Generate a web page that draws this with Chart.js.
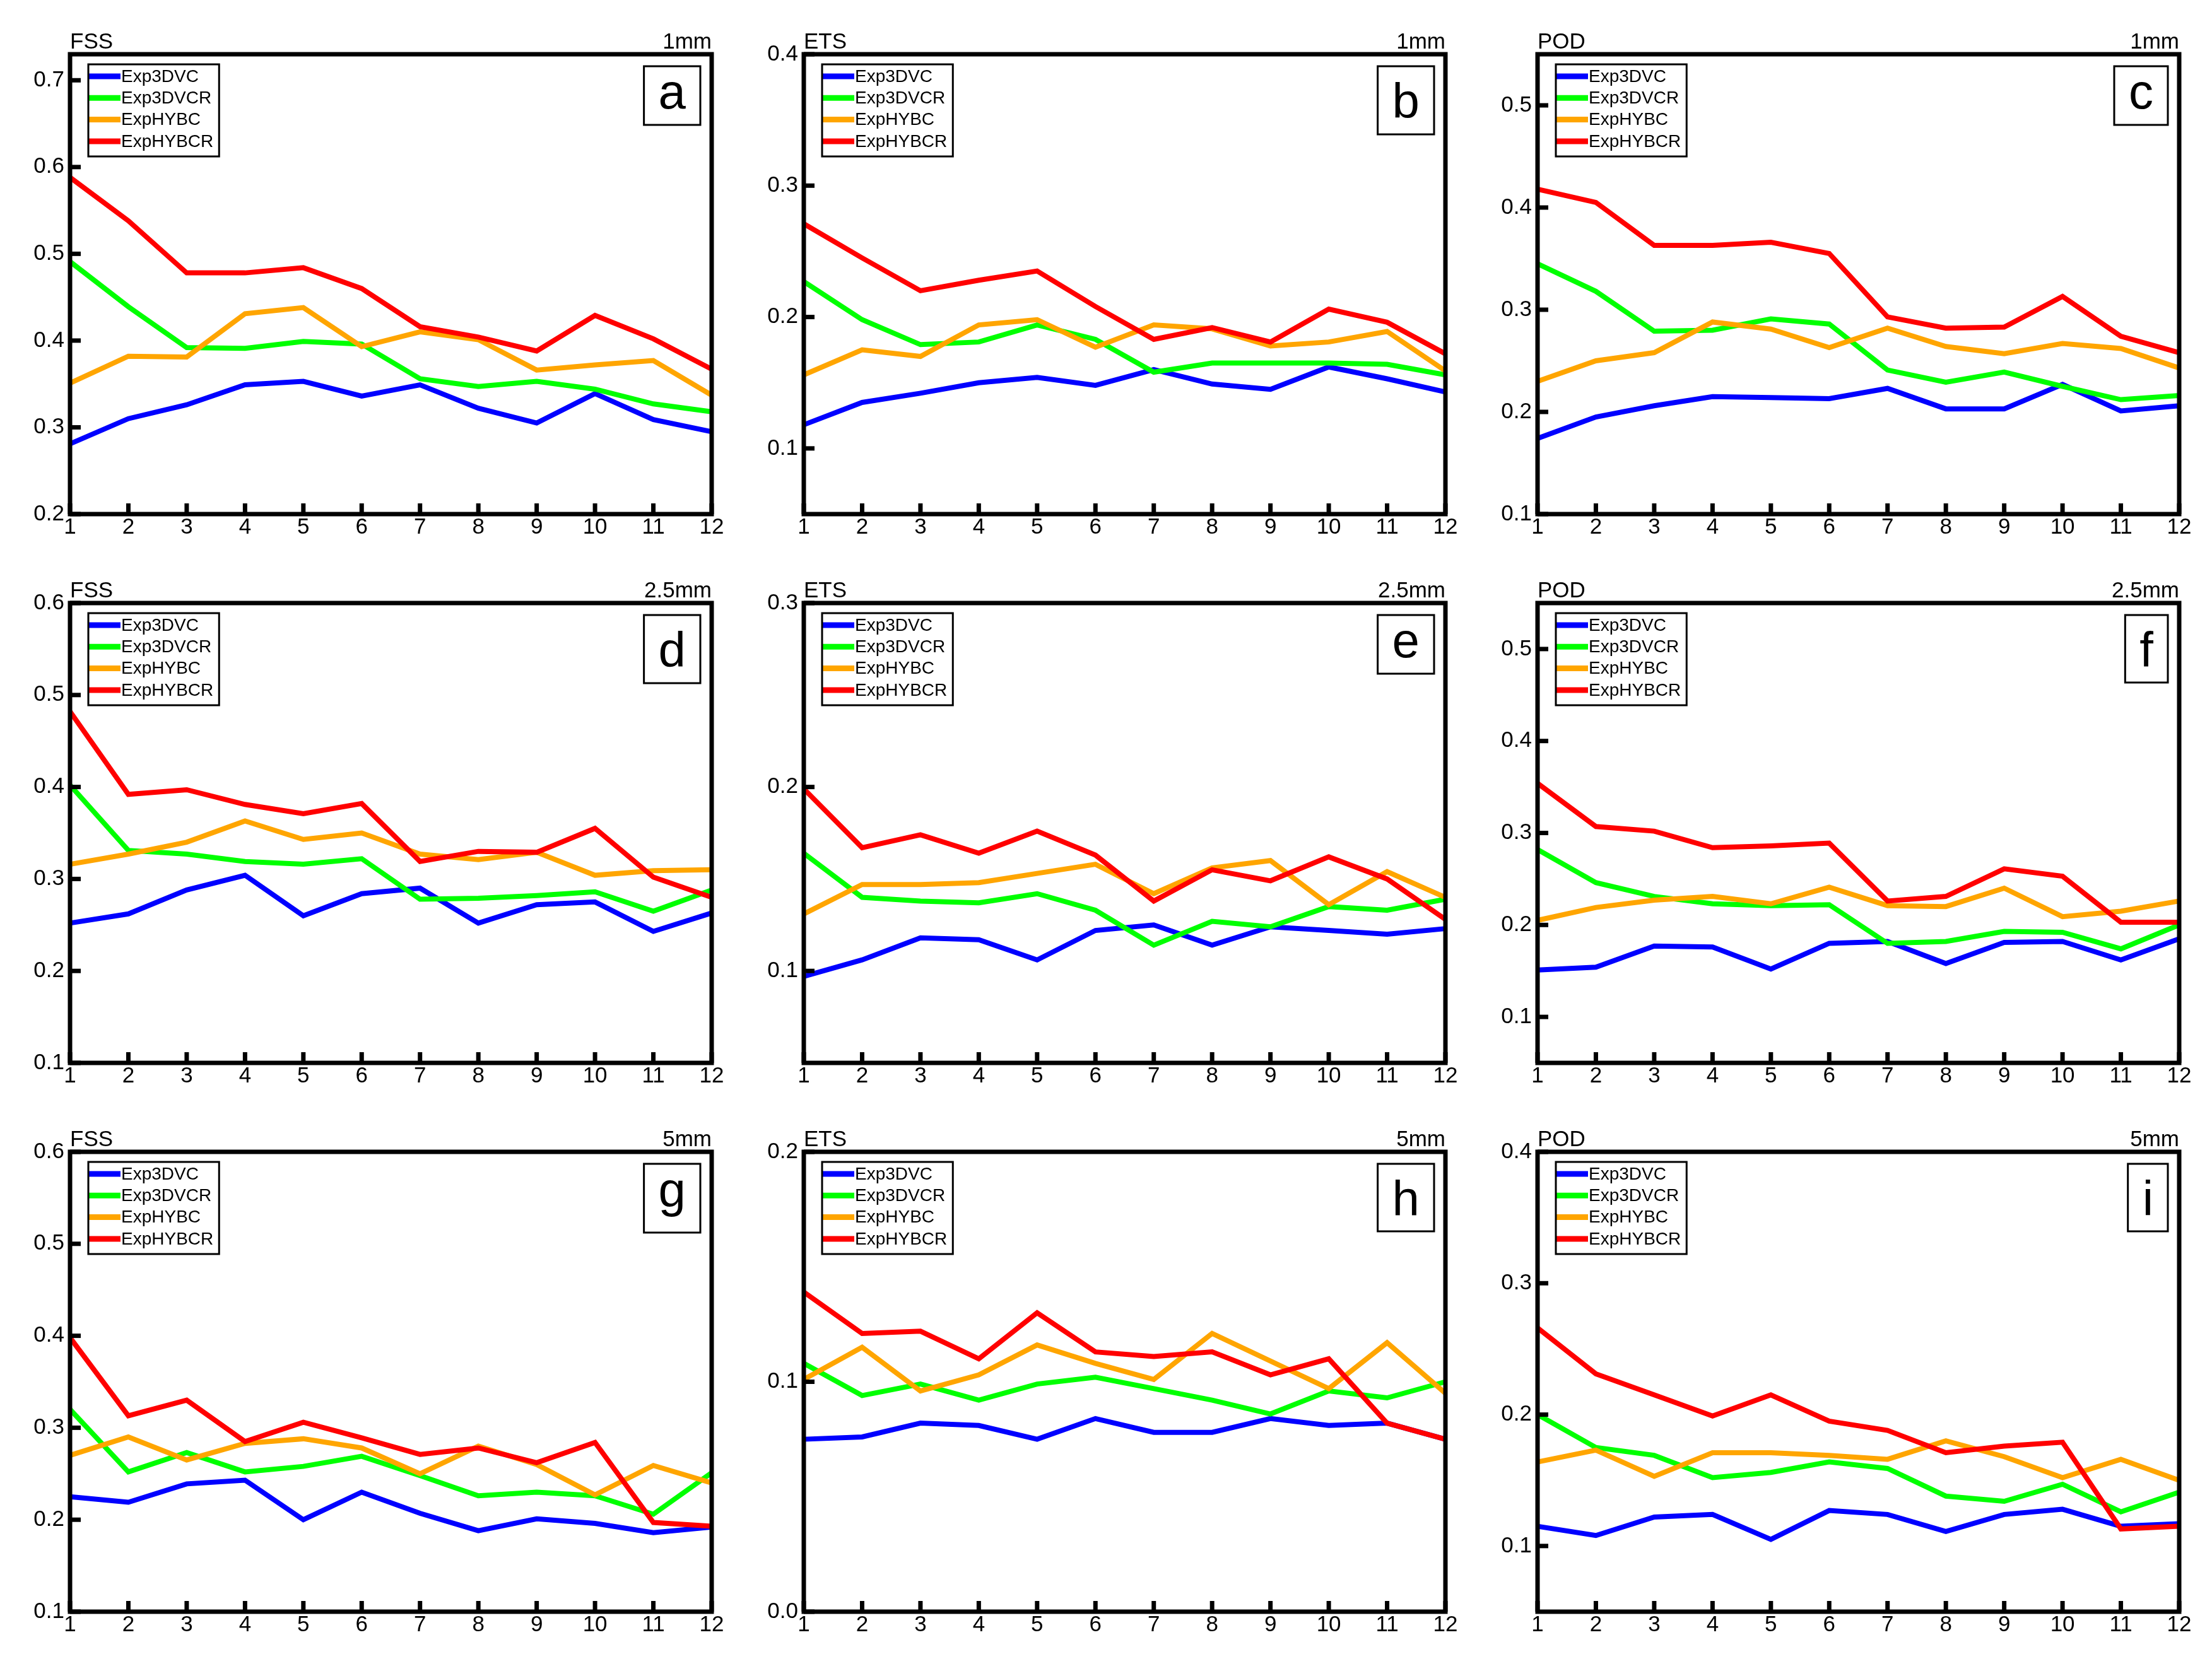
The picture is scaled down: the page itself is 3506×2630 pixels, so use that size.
<!DOCTYPE html>
<html lang="en">
<head>
    <meta charset="UTF-8">
    <title>FSS / ETS / POD by forecast hour</title>
    <script src="https://cdn.jsdelivr.net/npm/chart.js"></script>
    <style>
        body {
            margin: 0;
            background: #fff;
            width: 3506px;
            height: 2630px;
            position: relative;
            overflow: hidden;
        }
        canvas {
            position: absolute;
        }
    </style>
</head>
<body>

<script>
    // forecast hours on the x axis
    const hours = ['1', '2', '3', '4', '5', '6', '7', '8', '9', '10', '11', '12'];
    const expNames = ['Exp3DVC', 'Exp3DVCR', 'ExpHYBC', 'ExpHYBCR'];
    const expColors = ['#0000ff', '#00ff00', '#ffa500', '#ff0000'];

    // (a) FSS 1mm
    const fss1_3dvc  = [0.281, 0.310, 0.326, 0.349, 0.353, 0.336, 0.349, 0.322, 0.305, 0.339, 0.309, 0.295];
    const fss1_3dvcr = [0.491, 0.439, 0.392, 0.391, 0.399, 0.396, 0.356, 0.347, 0.353, 0.344, 0.327, 0.318];
    const fss1_hybc  = [0.351, 0.382, 0.381, 0.431, 0.438, 0.393, 0.410, 0.401, 0.366, 0.372, 0.377, 0.337];
    const fss1_hybcr = [0.588, 0.538, 0.478, 0.478, 0.484, 0.460, 0.416, 0.404, 0.388, 0.429, 0.402, 0.367];

    // (b) ETS 1mm
    const ets1_3dvc  = [0.118, 0.135, 0.142, 0.150, 0.154, 0.148, 0.160, 0.149, 0.145, 0.162, 0.153, 0.143];
    const ets1_3dvcr = [0.227, 0.198, 0.179, 0.181, 0.194, 0.183, 0.158, 0.165, 0.165, 0.165, 0.164, 0.156];
    const ets1_hybc  = [0.156, 0.175, 0.170, 0.194, 0.198, 0.177, 0.194, 0.191, 0.178, 0.181, 0.189, 0.159];
    const ets1_hybcr = [0.271, 0.245, 0.220, 0.228, 0.235, 0.208, 0.183, 0.192, 0.181, 0.206, 0.196, 0.172];

    // (c) POD 1mm
    const pod1_3dvc  = [0.174, 0.195, 0.206, 0.215, 0.214, 0.213, 0.223, 0.203, 0.203, 0.227, 0.201, 0.206];
    const pod1_3dvcr = [0.345, 0.318, 0.279, 0.280, 0.291, 0.286, 0.241, 0.229, 0.239, 0.225, 0.212, 0.216];
    const pod1_hybc  = [0.230, 0.250, 0.258, 0.288, 0.281, 0.263, 0.282, 0.264, 0.257, 0.267, 0.262, 0.243];
    const pod1_hybcr = [0.418, 0.405, 0.363, 0.363, 0.366, 0.355, 0.293, 0.282, 0.283, 0.313, 0.274, 0.258];

    // (d) FSS 2.5mm
    const fss25_3dvc  = [0.252, 0.262, 0.288, 0.304, 0.260, 0.284, 0.290, 0.252, 0.272, 0.275, 0.243, 0.263];
    const fss25_3dvcr = [0.402, 0.331, 0.327, 0.319, 0.316, 0.322, 0.278, 0.279, 0.282, 0.286, 0.265, 0.288];
    const fss25_hybc  = [0.316, 0.327, 0.340, 0.363, 0.343, 0.350, 0.327, 0.321, 0.329, 0.304, 0.309, 0.310];
    const fss25_hybcr = [0.482, 0.392, 0.397, 0.381, 0.371, 0.382, 0.319, 0.330, 0.329, 0.355, 0.302, 0.280];

    // (e) ETS 2.5mm
    const ets25_3dvc  = [0.097, 0.106, 0.118, 0.117, 0.106, 0.122, 0.125, 0.114, 0.124, 0.122, 0.120, 0.123];
    const ets25_3dvcr = [0.164, 0.140, 0.138, 0.137, 0.142, 0.133, 0.114, 0.127, 0.124, 0.135, 0.133, 0.139];
    const ets25_hybc  = [0.131, 0.147, 0.147, 0.148, 0.153, 0.158, 0.142, 0.156, 0.160, 0.136, 0.154, 0.140];
    const ets25_hybcr = [0.199, 0.167, 0.174, 0.164, 0.176, 0.163, 0.138, 0.155, 0.149, 0.162, 0.150, 0.128];

    // (f) POD 2.5mm
    const pod25_3dvc  = [0.151, 0.154, 0.177, 0.176, 0.152, 0.180, 0.182, 0.158, 0.181, 0.182, 0.162, 0.185];
    const pod25_3dvcr = [0.282, 0.246, 0.231, 0.223, 0.221, 0.222, 0.180, 0.182, 0.193, 0.192, 0.174, 0.200];
    const pod25_hybc  = [0.205, 0.219, 0.227, 0.231, 0.223, 0.241, 0.221, 0.220, 0.240, 0.209, 0.215, 0.226];
    const pod25_hybcr = [0.354, 0.307, 0.302, 0.284, 0.286, 0.289, 0.226, 0.231, 0.261, 0.253, 0.203, 0.203];

    // (g) FSS 5mm
    const fss5_3dvc  = [0.225, 0.219, 0.239, 0.243, 0.200, 0.230, 0.207, 0.188, 0.201, 0.196, 0.186, 0.192];
    const fss5_3dvcr = [0.320, 0.252, 0.273, 0.252, 0.258, 0.269, 0.248, 0.226, 0.230, 0.226, 0.206, 0.251];
    const fss5_hybc  = [0.270, 0.290, 0.265, 0.283, 0.288, 0.278, 0.250, 0.280, 0.260, 0.227, 0.259, 0.240];
    const fss5_hybcr = [0.398, 0.313, 0.330, 0.285, 0.306, 0.289, 0.271, 0.278, 0.262, 0.284, 0.197, 0.193];

    // (h) ETS 5mm
    const ets5_3dvc  = [0.075, 0.076, 0.082, 0.081, 0.075, 0.084, 0.078, 0.078, 0.084, 0.081, 0.082, 0.075];
    const ets5_3dvcr = [0.108, 0.094, 0.099, 0.092, 0.099, 0.102, 0.097, 0.092, 0.086, 0.096, 0.093, 0.100];
    const ets5_hybc  = [0.101, 0.115, 0.096, 0.103, 0.116, 0.108, 0.101, 0.121, 0.109, 0.097, 0.117, 0.095];
    const ets5_hybcr = [0.139, 0.121, 0.122, 0.110, 0.130, 0.113, 0.111, 0.113, 0.103, 0.110, 0.082, 0.075];

    // (i) POD 5mm
    const pod5_3dvc  = [0.115, 0.108, 0.122, 0.124, 0.105, 0.127, 0.124, 0.111, 0.124, 0.128, 0.115, 0.117];
    const pod5_3dvcr = [0.200, 0.175, 0.169, 0.152, 0.156, 0.164, 0.159, 0.138, 0.134, 0.147, 0.126, 0.141];
    const pod5_hybc  = [0.164, 0.173, 0.153, 0.171, 0.171, 0.169, 0.166, 0.180, 0.168, 0.152, 0.166, 0.150];
    const pod5_hybcr = [0.266, 0.231, 0.215, 0.199, 0.215, 0.195, 0.188, 0.171, 0.176, 0.179, 0.113, 0.115];

    // y tick labels per panel
    const ticksA = [0.2, 0.3, 0.4, 0.5, 0.6, 0.7];
    const ticksB = [0.1, 0.2, 0.3, 0.4];
    const ticksC = [0.1, 0.2, 0.3, 0.4, 0.5];
    const ticksD = [0.1, 0.2, 0.3, 0.4, 0.5, 0.6];
    const ticksE = [0.1, 0.2, 0.3];
    const ticksF = [0.1, 0.2, 0.3, 0.4, 0.5];
    const ticksG = [0.1, 0.2, 0.3, 0.4, 0.5, 0.6];
    const ticksH = [0.0, 0.1, 0.2];
    const ticksI = [0.1, 0.2, 0.3, 0.4];

    const panels = [
        { score: 'FSS', thr: '1mm',   letter: 'a', min: 0.2,  max: 0.73, ticks: ticksA, series: [fss1_3dvc, fss1_3dvcr, fss1_hybc, fss1_hybcr] },
        { score: 'ETS', thr: '1mm',   letter: 'b', min: 0.05, max: 0.4,  ticks: ticksB, series: [ets1_3dvc, ets1_3dvcr, ets1_hybc, ets1_hybcr] },
        { score: 'POD', thr: '1mm',   letter: 'c', min: 0.1,  max: 0.55, ticks: ticksC, series: [pod1_3dvc, pod1_3dvcr, pod1_hybc, pod1_hybcr] },
        { score: 'FSS', thr: '2.5mm', letter: 'd', min: 0.1,  max: 0.6,  ticks: ticksD, series: [fss25_3dvc, fss25_3dvcr, fss25_hybc, fss25_hybcr] },
        { score: 'ETS', thr: '2.5mm', letter: 'e', min: 0.05, max: 0.3,  ticks: ticksE, series: [ets25_3dvc, ets25_3dvcr, ets25_hybc, ets25_hybcr] },
        { score: 'POD', thr: '2.5mm', letter: 'f', min: 0.05, max: 0.55, ticks: ticksF, series: [pod25_3dvc, pod25_3dvcr, pod25_hybc, pod25_hybcr] },
        { score: 'FSS', thr: '5mm',   letter: 'g', min: 0.1,  max: 0.6,  ticks: ticksG, series: [fss5_3dvc, fss5_3dvcr, fss5_hybc, fss5_hybcr] },
        { score: 'ETS', thr: '5mm',   letter: 'h', min: 0.0,  max: 0.2,  ticks: ticksH, series: [ets5_3dvc, ets5_3dvcr, ets5_hybc, ets5_hybcr] },
        { score: 'POD', thr: '5mm',   letter: 'i', min: 0.05, max: 0.4,  ticks: ticksI, series: [pod5_3dvc, pod5_3dvcr, pod5_hybc, pod5_hybcr] }
    ];

    const FONT = '"Liberation Sans", Arial, sans-serif';

    // frame, inward ticks, titles, legend box and panel letter
    const decor = {
        id: 'decor',
        afterDatasetsDraw(chart, args, opts) {
            const ctx = chart.ctx;
            const a = chart.chartArea;
            const xs = chart.scales.x, ys = chart.scales.y;
            ctx.save();
            ctx.strokeStyle = '#000';
            ctx.lineWidth = 7;
            ctx.lineCap = 'butt';

            ys.ticks.forEach(t => {
                const y = ys.getPixelForValue(t.value);
                ctx.beginPath();
                ctx.moveTo(a.left, y);
                ctx.lineTo(a.left + 17, y);
                ctx.stroke();
            });
            xs.ticks.forEach((t, i) => {
                const x = xs.getPixelForTick(i);
                ctx.beginPath();
                ctx.moveTo(x, a.bottom);
                ctx.lineTo(x, a.bottom - 17);
                ctx.stroke();
            });
            ctx.strokeRect(a.left, a.top, a.right - a.left, a.bottom - a.top);

            // score name and threshold above the frame
            ctx.fillStyle = '#000';
            ctx.font = '35px ' + FONT;
            ctx.textBaseline = 'alphabetic';
            ctx.textAlign = 'left';
            ctx.fillText(opts.score, a.left, a.top - 9);
            ctx.textAlign = 'right';
            ctx.fillText(opts.thr, a.right, a.top - 9);

            // legend
            ctx.font = '28px ' + FONT;
            ctx.textAlign = 'left';
            ctx.textBaseline = 'middle';
            const sets = chart.data.datasets;
            const lineLen = 51;
            const textW = Math.max(...sets.map(d => ctx.measureText(d.label).width));
            const bx = a.left + 29, by = a.top + 16;
            const bw = lineLen + textW + 10, bh = 146;
            ctx.fillStyle = '#fff';
            ctx.fillRect(bx, by, bw, bh);
            sets.forEach((d, k) => {
                const ry = by + 19 + k * 34.3;
                ctx.strokeStyle = d.borderColor;
                ctx.lineWidth = 9;
                ctx.beginPath();
                ctx.moveTo(bx, ry);
                ctx.lineTo(bx + lineLen, ry);
                ctx.stroke();
                ctx.fillStyle = '#000';
                ctx.fillText(d.label, bx + lineLen + 1, ry + 1);
            });
            ctx.strokeStyle = '#000';
            ctx.lineWidth = 3;
            ctx.strokeRect(bx, by, bw, bh);

            // panel letter in a box
            ctx.font = '78px ' + FONT;
            ctx.textBaseline = 'alphabetic';
            const m = ctx.measureText(opts.letter);
            const lw = m.width + 46;
            const lh = m.actualBoundingBoxAscent + m.actualBoundingBoxDescent + 50;
            const lx = a.right - 18 - lw, ly = a.top + 19;
            ctx.fillStyle = '#fff';
            ctx.fillRect(lx, ly, lw, lh);
            ctx.lineWidth = 3;
            ctx.strokeRect(lx, ly, lw, lh);
            ctx.fillStyle = '#000';
            ctx.textAlign = 'center';
            ctx.fillText(opts.letter, lx + lw / 2, ly + 25 + m.actualBoundingBoxAscent);
            ctx.restore();
        }
    };

    const colLeft = [111, 1274, 2437];
    const rowTop = [86, 956, 1826];
    const plotW = 1017, plotH = 729;
    const axisW = 111, axisH = 60, padTop = 86, padRight = 40;

    panels.forEach((p, i) => {
        const canvas = document.createElement('canvas');
        const w = axisW + plotW + padRight, h = padTop + plotH + axisH;
        canvas.width = w;
        canvas.height = h;
        canvas.style.width = w + 'px';
        canvas.style.height = h + 'px';
        canvas.style.left = (colLeft[i % 3] - axisW) + 'px';
        canvas.style.top = (rowTop[Math.floor(i / 3)] - padTop) + 'px';
        document.body.appendChild(canvas);

        new Chart(canvas, {
            type: 'line',
            data: {
                labels: hours,
                datasets: p.series.map((d, k) => ({
                    label: expNames[k],
                    data: d,
                    borderColor: expColors[k],
                    backgroundColor: expColors[k],
                    borderWidth: 8,
                    pointRadius: 0,
                    tension: 0,
                    fill: false,
                    order: 3 - k
                }))
            },
            options: {
                responsive: false,
                animation: false,
                devicePixelRatio: 1,
                layout: { padding: { top: padTop, right: padRight, left: 0, bottom: 0 } },
                plugins: {
                    legend: { display: false },
                    tooltip: { enabled: false },
                    decor: { score: p.score, thr: p.thr, letter: p.letter }
                },
                scales: {
                    x: {
                        offset: false,
                        grid: { display: false, drawTicks: false },
                        border: { display: false },
                        ticks: { color: '#000', font: { family: FONT, size: 35 }, padding: 0, autoSkip: false, maxRotation: 0 },
                        afterFit: s => { s.height = axisH; }
                    },
                    y: {
                        min: p.min,
                        max: p.max,
                        grid: { display: false, drawTicks: false },
                        border: { display: false },
                        ticks: { color: '#000', font: { family: FONT, size: 35 }, padding: 9, callback: v => v.toFixed(1) },
                        afterBuildTicks: s => { s.ticks = p.ticks.map(v => ({ value: v })); },
                        afterFit: s => { s.width = axisW; }
                    }
                }
            },
            plugins: [decor]
        });
    });
</script>

</body>
</html>
